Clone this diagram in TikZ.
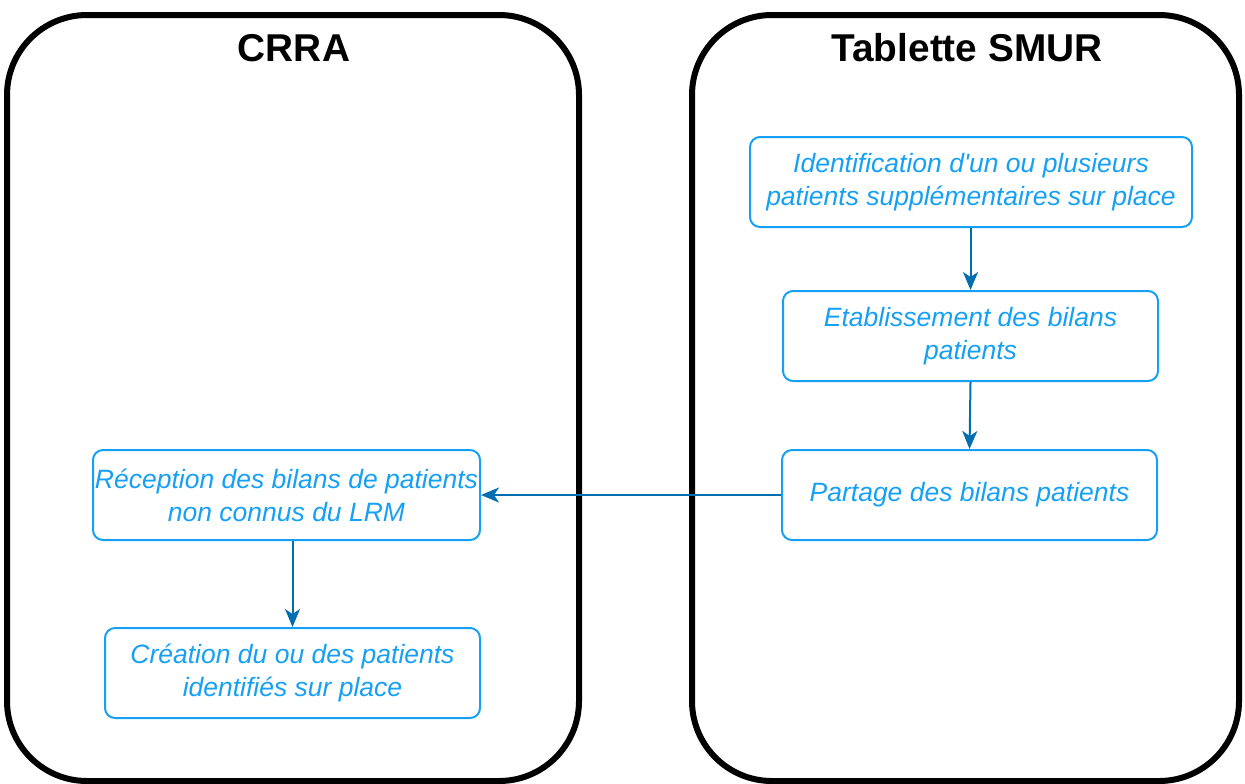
\documentclass[tikz,border=0pt]{standalone}
\usepackage{fontspec}
\setmainfont{Liberation Sans}
\usetikzlibrary{positioning}
\usetikzlibrary{arrows.meta}
\definecolor{boxblue}{RGB}{22,160,245}
\definecolor{arrowblue}{RGB}{0,110,175}
\tikzset{x=0.5pt, y=-0.5pt,
         lane/.style={draw, line width=3pt, rounded corners=40pt},
         lanetitle/.style={font=\fontsize{19.4}{23}\selectfont\bfseries},
         task/.style={draw=boxblue, line width=1pt, rounded corners=5pt,
                      text=boxblue, align=center, minimum height=45pt,
                      inner sep=0pt, font=\fontsize{13.25}{16.5}\selectfont\itshape},
         every edge/.style={draw=arrowblue, line width=1pt,
                            -{Stealth[length=9pt,width=7.5pt,inset=2.5pt]}} }
\begin{document}
\begin{tikzpicture}
    \useasboundingbox (0,0) rectangle (1245,783);
    \draw[lane] (7,15) rectangle (579,781);
    \draw[lane] (692,15) rectangle (1239,781);
    \node[lanetitle] (crra) at (294,48) {CRRA};
    \node[lanetitle] (smur) at (967,48) {Tablette SMUR};
    \node[task, minimum width=221pt] (i1) at (971,182)
        {Identification d\textquotesingle un ou plusieurs\\patients supplémentaires sur place};
    \node[task, minimum width=187.5pt] (i2) at (970.5,336)
        {Etablissement des bilans\\patients};
    \node[task, minimum width=187.5pt] (i3) at (969.5,495)
        {Partage des bilans patients};
    \node[task, minimum width=193.5pt] (c1) at (286.5,495)
        {Réception des bilans de patients\\non connus du LRM};
    \node[task, minimum width=187.5pt] (c2) at (292.5,673)
        {Création du ou des patients\\identifiés sur place};
    \draw (i2.north |- i1.south) edge (i2.north);
    \draw (i2.south) edge (i3.north);
    \draw (i3.west) edge (c1.east);
    \draw (c2.north |- c1.south) edge (c2.north);
\end{tikzpicture}
\end{document}
